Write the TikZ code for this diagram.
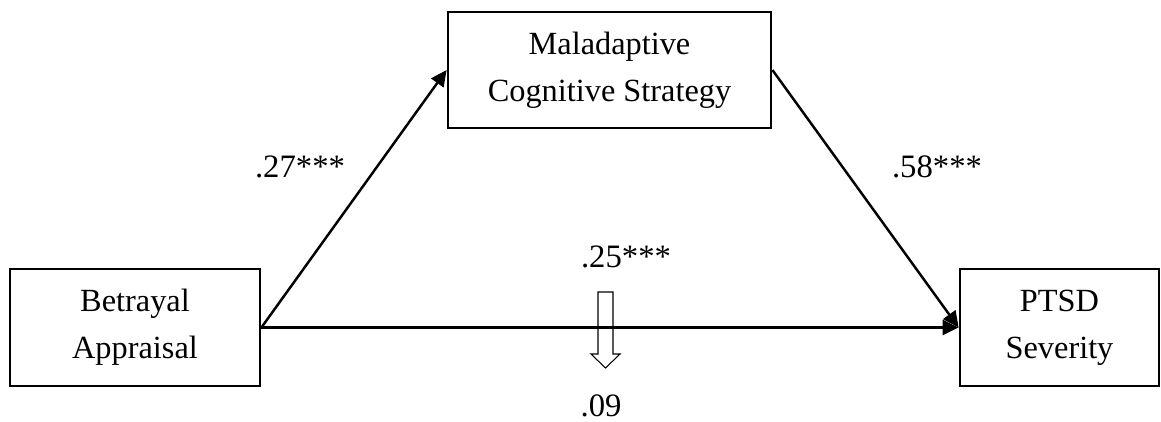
\documentclass[tikz,border=0pt]{standalone}
\usepackage{fontspec}
\setmainfont{Liberation Serif}
\usepackage{tikz}
\usetikzlibrary{arrows.meta}

\tikzset{
  varbox/.style={draw, line width=1.6pt, align=center, inner sep=0pt,
    font=\fontsize{18.4}{26.5}\selectfont},
  path/.style={line width=1.4pt, -{Triangle[length=0.32cm,width=0.3cm]}},
  coef/.style={anchor=base, font=\fontsize{18.6}{23}\selectfont}
}

\begin{document}
\begin{tikzpicture}[scale=1.0]
\useasboundingbox (0,0) rectangle (23.22,8.42);
\node[varbox, minimum width=5.0cm, minimum height=2.34cm] (ba) at (2.70,1.87) {Betrayal\\Appraisal};
\node[varbox, minimum width=6.46cm, minimum height=2.32cm] (mcs) at (12.19,7.02) {Maladaptive\\Cognitive Strategy};
\node[varbox, minimum width=3.98cm, minimum height=2.34cm] (ptsd) at (21.19,1.87) {PTSD\\Severity};
\draw[path] (ba.east) -- (mcs.west);
\draw[path] (mcs.east) -- (ptsd.west);
\draw[path] (ba.east) -- (ptsd.west);
% hollow arrow for the drop of the direct path
\draw[line width=0.6pt] (11.96,2.58) -- (12.26,2.58) -- (12.26,1.34) -- (12.40,1.34)
-- (12.11,1.06) -- (11.82,1.34) -- (11.96,1.34) -- cycle;
\node[coef] (a) at (6.00,4.88) {.27***};
\node[coef] (b) at (18.74,4.88) {.58***};
\node[coef] (c) at (12.52,3.08) {.25***};
\node[coef] (c2) at (12.02,0.10) {.09};
\end{tikzpicture}
\end{document}
